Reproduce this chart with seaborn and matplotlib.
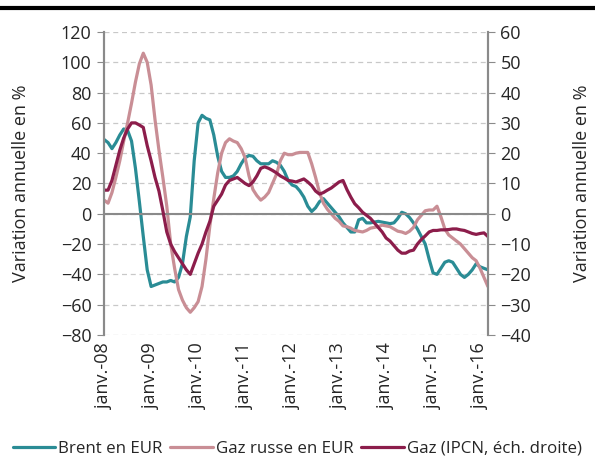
import matplotlib
matplotlib.use("Agg")
import matplotlib.pyplot as plt
import seaborn as sns
import pandas as pd

# Données (variation annuelle en %, mensuelles de janv.-08 à mars-16)
brent_eur = [49, 47, 43, 47, 52, 56, 55, 48, 30, 8,
             -15, -37, -48, -47, -46, -45, -45, -44, -45, -42,
             -33, -15, -2, 35, 60, 65, 63, 62, 52, 38,
             28, 24, 24, 25, 28, 33, 37, 38.5, 38, 35,
             33, 33, 33, 35, 34, 32, 28, 22, 19, 18,
             15, 11, 5, 1.5, 4, 8, 10, 7, 4, 1,
             -2, -6, -9, -12, -12, -4, -3, -6, -6, -5.5,
             -5, -5.5, -6, -6.5, -6, -3, 1, 0, -2.5, -6,
             -10, -15, -20, -30, -39, -40, -36, -32, -31, -32,
             -36, -40, -42, -40, -37, -33, -35, -36, -37]

gaz_russe_eur = [9, 7, 14, 24, 35, 48, 60, 73, 87, 99,
                 106, 100, 85, 62, 42, 24, 5, -20, -36, -50,
                 -57, -62, -65, -62, -58, -48, -30, -8, 10, 27,
                 40, 47, 49.5, 48, 47, 43, 37, 25, 16, 12,
                 9, 11, 14, 20, 26, 35, 40, 39, 39, 40,
                 40.5, 40.5, 40.5, 33, 24, 14, 7, 3, 0, -3,
                 -5, -8, -8.5, -9.5, -11, -11.5, -12, -11, -9.5, -9,
                 -8.5, -7.5, -8, -8.5, -10, -11.5, -12, -13, -11.5, -9,
                 -4, -1, 2, 2.5, 2.5, 5, -2, -10, -14, -16,
                 -18, -20, -23, -26, -29, -31, -36, -42, -48]

# échelle de droite
gaz_ipcn = [7.8, 7.8, 11, 16, 21, 25, 28, 30, 30, 29.3,
            28.5, 22.5, 17.5, 12, 7.5, 1, -6, -10, -12.5, -14.5,
            -16.5, -18.5, -20, -16.5, -13, -10, -6, -2.5, 2.5, 4.5,
            6.5, 9.5, 11, 11.5, 12, 11, 10, 9.3, 10.5, 12.5,
            15, 15.5, 15, 14.3, 13.5, 12.5, 11.8, 11, 10.8, 10.5,
            11, 11.5, 10.5, 9.3, 7.5, 6.5, 7, 7.8, 8.5, 9.5,
            10.5, 11, 8, 5.5, 3.3, 2, 0.5, -0.5, -1.5, -3,
            -4.5, -6, -8, -9, -10.5, -12, -13, -13, -12.3, -12,
            -10, -8.5, -7.3, -6, -5.5, -5.5, -5.3, -5.3, -5.2, -5,
            -5, -5.3, -5.5, -6, -6.5, -6.8, -6.5, -6.3, -7.5]

tick_labels = ["janv.-08", "janv.-09", "janv.-10", "janv.-11", "janv.-12",
               "janv.-13", "janv.-14", "janv.-15", "janv.-16"]

teal = "#2a8c95"
rose = "#c98e95"
bordeaux = "#8c1d4b"

df = pd.DataFrame({
    "mois": range(len(brent_eur)),
    "brent": brent_eur,
    "russe": gaz_russe_eur,
    "ipcn": gaz_ipcn,
})

sns.set_style("white")
plt.rcParams["font.family"] = ["Open Sans", "DejaVu Sans"]
fs = 13

fig = plt.figure(figsize=(5.95, 4.57), dpi=100)
ax = fig.add_axes([0.175, 0.267, 0.645, 0.663])
ax2 = ax.twinx()

sns.lineplot(data=df, x="mois", y="brent", ax=ax, color=teal, lw=2.3, label="Brent en EUR", legend=False)
sns.lineplot(data=df, x="mois", y="russe", ax=ax, color=rose, lw=2.3, label="Gaz russe en EUR", legend=False)
sns.lineplot(data=df, x="mois", y="ipcn", ax=ax2, color=bordeaux, lw=2.3, label="Gaz (IPCN, éch. droite)", legend=False)

ax.set_xlim(0, len(brent_eur) - 1)
ax.set_ylim(-80, 120)
ax.set_yticks(range(-80, 121, 20))
ax2.set_ylim(-40, 60)
ax2.set_yticks(range(-40, 61, 10))

ax.yaxis.grid(True, linestyle=(0, (4, 3)), color="#c8c8c8", lw=0.9)
ax.set_axisbelow(True)

gris = "#8a8a8a"
for a in (ax, ax2):
    a.spines["top"].set_visible(False)
    a.spines["left"].set_color(gris)
    a.spines["right"].set_color(gris)
    a.spines["left"].set_linewidth(1.5)
    a.spines["right"].set_linewidth(1.5)
    a.spines["bottom"].set_visible(False)
ax.spines["bottom"].set_visible(True)
ax.spines["bottom"].set_position(("data", 0))
ax.spines["bottom"].set_color(gris)
ax.spines["bottom"].set_linewidth(1.5)

ticks = [12 * i for i in range(len(tick_labels))]
ax.set_xticks(ticks)
ax.tick_params(axis="x", labelbottom=False, direction="out", length=5, color=gris, width=1)
ax.tick_params(axis="y", direction="out", length=5, color=gris, labelsize=fs, pad=4)
ax2.tick_params(axis="y", direction="out", length=5, color=gris, labelsize=fs, pad=4)

sec = ax.secondary_xaxis("bottom")
sec.set_xticks(ticks, tick_labels, rotation=90)
sec.tick_params(length=0, labelsize=fs, pad=6)
sec.spines["bottom"].set_visible(False)

ax.set_xlabel("")
ax.set_ylabel("Variation annuelle en %", fontsize=fs, labelpad=22)
ax2.set_ylabel("Variation annuelle en %", fontsize=fs, labelpad=30)

# trait noir en haut
fig.add_artist(plt.Line2D([0, 1], [0.982, 0.982], color="black", lw=3))

h1, l1 = ax.get_legend_handles_labels()
h2, l2 = ax2.get_legend_handles_labels()
fig.legend(h1 + h2, l1 + l2, loc="center", bbox_to_anchor=(0.5, 0.018), ncol=3,
           frameon=False, fontsize=12.2, handlelength=2.5, handletextpad=0.2,
           columnspacing=0.45, borderaxespad=0)

fig.savefig("out.png", dpi=100)
